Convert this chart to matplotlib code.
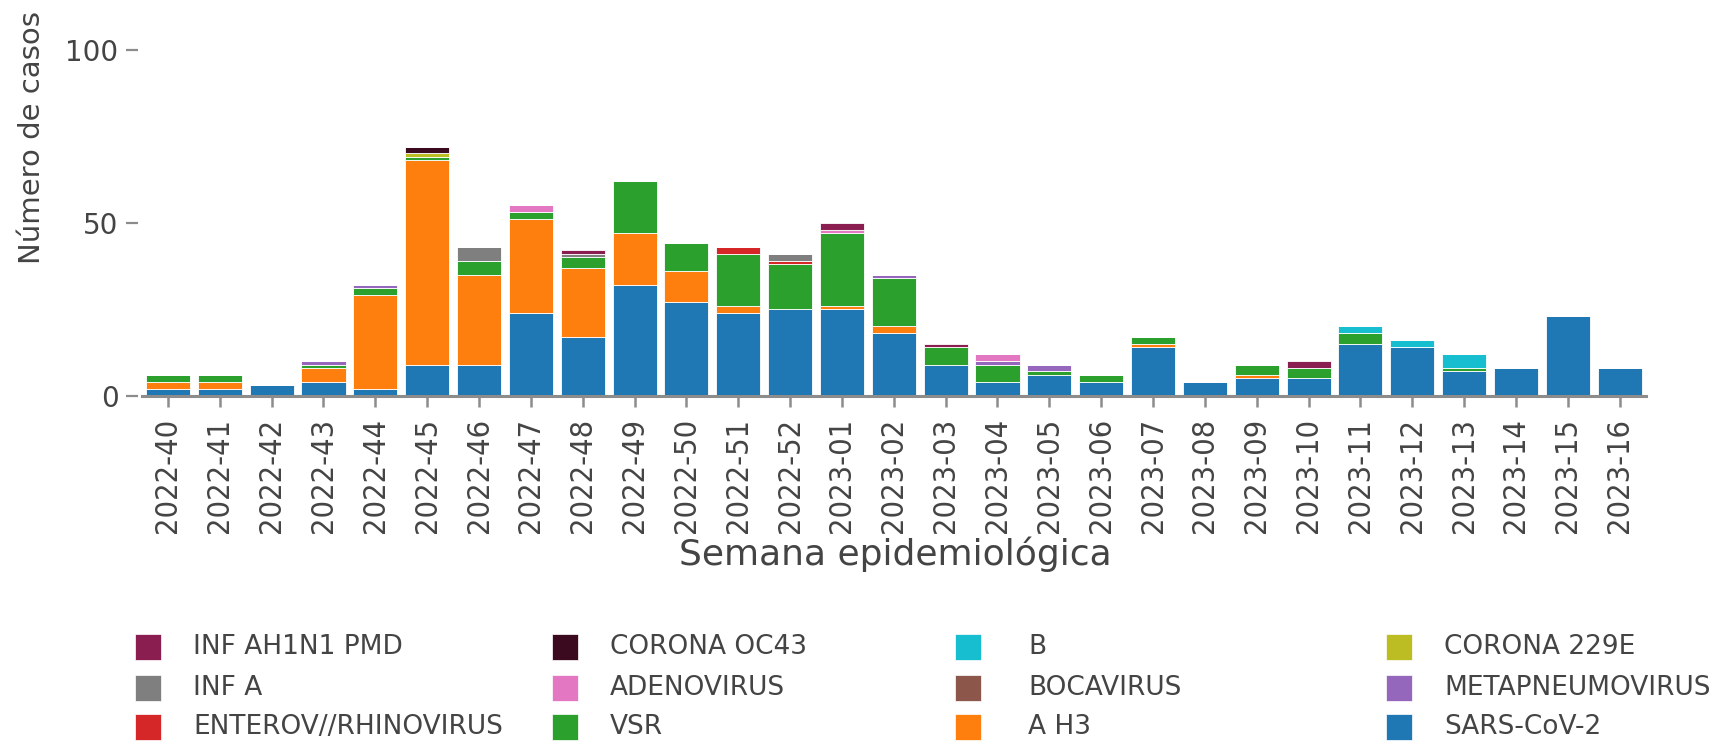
import matplotlib
matplotlib.use("Agg")
import matplotlib.pyplot as plt
from matplotlib import font_manager as fm
from matplotlib.patches import Rectangle
import numpy as np

weeks = ['2022-40', '2022-41', '2022-42', '2022-43', '2022-44', '2022-45', '2022-46',
         '2022-47', '2022-48', '2022-49', '2022-50', '2022-51', '2022-52',
         '2023-01', '2023-02', '2023-03', '2023-04', '2023-05', '2023-06', '2023-07',
         '2023-08', '2023-09', '2023-10', '2023-11', '2023-12', '2023-13', '2023-14',
         '2023-15', '2023-16']

sars_cov_2 = [2, 2, 3, 4, 2, 9, 9, 24, 17, 32, 27, 24, 25, 25, 18, 9, 4, 6, 4, 14, 4, 5, 5, 15, 14, 7, 8, 23, 8]
a_h3 = [2, 2, 0, 4, 27, 59, 26, 27, 20, 15, 9, 2, 0, 1, 2, 0, 0, 0, 0, 1, 0, 1, 0, 0, 0, 0, 0, 0, 0]
vsr = [2, 2, 0, 1, 2, 1, 4, 2, 3, 15, 8, 15, 13, 21, 14, 5, 5, 1, 2, 2, 0, 3, 3, 3, 0, 1, 0, 0, 0]
enterov = [0, 0, 0, 0, 0, 0, 0, 0, 0, 0, 0, 2, 1, 0, 0, 0, 0, 0, 0, 0, 0, 0, 0, 0, 0, 0, 0, 0, 0]
metapneumo = [0, 0, 0, 1, 1, 0, 0, 0, 0, 0, 0, 0, 0, 0, 1, 0, 1, 2, 0, 0, 0, 0, 0, 0, 0, 0, 0, 0, 0]
bocavirus = [0] * 29
adenovirus = [0, 0, 0, 0, 0, 0, 0, 2, 0, 0, 0, 0, 0, 1, 0, 0, 2, 0, 0, 0, 0, 0, 0, 0, 0, 0, 0, 0, 0]
inf_a = [0, 0, 0, 0, 0, 0, 4, 0, 1, 0, 0, 0, 2, 0, 0, 0, 0, 0, 0, 0, 0, 0, 0, 0, 0, 0, 0, 0, 0]
corona_229e = [0, 0, 0, 0, 0, 1, 0, 0, 0, 0, 0, 0, 0, 0, 0, 0, 0, 0, 0, 0, 0, 0, 0, 0, 0, 0, 0, 0, 0]
inf_b = [0, 0, 0, 0, 0, 0, 0, 0, 0, 0, 0, 0, 0, 0, 0, 0, 0, 0, 0, 0, 0, 0, 0, 2, 2, 4, 0, 0, 0]
corona_oc43 = [0, 0, 0, 0, 0, 2, 0, 0, 0, 0, 0, 0, 0, 0, 0, 0, 0, 0, 0, 0, 0, 0, 0, 0, 0, 0, 0, 0, 0]
ah1n1 = [0, 0, 0, 0, 0, 0, 0, 0, 1, 0, 0, 0, 0, 2, 0, 1, 0, 0, 0, 0, 0, 0, 2, 0, 0, 0, 0, 0, 0]

# stacking order bottom -> top
series_names = ['SARS-CoV-2', 'A H3', 'VSR', 'ENTEROV//RHINOVIRUS', 'METAPNEUMOVIRUS',
                'BOCAVIRUS', 'ADENOVIRUS', 'INF A', 'CORONA 229E', 'B', 'CORONA OC43',
                'INF AH1N1 PMD']
series_values = [sars_cov_2, a_h3, vsr, enterov, metapneumo, bocavirus, adenovirus,
                 inf_a, corona_229e, inf_b, corona_oc43, ah1n1]
series_colors = ['#1f77b4', '#ff7f0e', '#2ca02c', '#d62728', '#9467bd', '#8c564b',
                 '#e377c2', '#7f7f7f', '#bcbd22', '#17becf', '#3c0a1e', '#8b1e50']

y_ticks = [0, 50, 100]

W, H = 1711, 741
fig = plt.figure(figsize=(W / 100, H / 100), dpi=100)

def fx(px):
    return px / W

def fy(py):
    return 1 - py / H

ax_left, ax_right = 142, 1645.6
ax_bottom_px, ax_top_px = 395.7, 395.7 - 105 * 3.46
ax = fig.add_axes([fx(ax_left), fy(ax_bottom_px), fx(ax_right - ax_left),
                   (ax_bottom_px - ax_top_px) / H])

names = {f.name for f in fm.fontManager.ttflist}
narrow = 'Liberation Sans Narrow' if 'Liberation Sans Narrow' in names else None

x = np.arange(len(weeks))
bottom = np.zeros(len(weeks))
for name, vals, col in zip(series_names, series_values, series_colors):
    v = np.array(vals, dtype=float)
    ax.bar(x, v, bottom=bottom, width=0.85, color=col, edgecolor='white',
           linewidth=0.6, label=name, zorder=2)
    bottom += v

ax.set_xlim(-0.5, len(weeks) - 0.5)
ax.set_ylim(0, 105)

for s in ['top', 'right', 'left']:
    ax.spines[s].set_visible(False)
ax.spines['left'].set_position(('outward', 3))
ax.spines['bottom'].set_color('#8c8c8c')
ax.spines['bottom'].set_linewidth(2.2)
ax.spines['bottom'].set_zorder(3)

ax.set_yticks(y_ticks)
ax.set_yticklabels([str(t) for t in y_ticks])
ax.tick_params(axis='y', length=8.5, width=1.6, color='#8c8c8c', pad=5.5,
               labelsize=20, labelcolor='#444444')
ax.set_xticks(x)
if narrow:
    ax.set_xticklabels(weeks, rotation=90, fontsize=25, family=narrow, color='#444444')
else:
    ax.set_xticklabels(weeks, rotation=90, fontsize=22, fontstretch='condensed',
                       color='#444444')
ax.tick_params(axis='x', length=8, width=1.8, color='#8c8c8c', pad=8)

# axis titles
fig.text(fx(895), fy(554), 'Semana epidemiológica', ha='center', va='center',
         fontsize=26, color='#444444')
if narrow:
    fig.text(fx(32), fy(138), 'Número de casos', rotation=90, ha='center', va='center',
             fontsize=24.5, family=narrow, color='#444444')
else:
    fig.text(fx(32), fy(138), 'Número de casos', rotation=90, ha='center', va='center',
             fontsize=21, color='#444444')

# legend (row-major, reversed trace order)
legend_order = list(reversed(range(len(series_names))))
col_x = [135, 552, 955, 1386]
text_x = [193, 610, 1028, 1444]
row_y = [647, 688, 727]
sw = 26
for k, idx in enumerate(legend_order):
    r, c = divmod(k, 4)
    x0 = col_x[c]
    yc = row_y[r]
    fig.patches.append(Rectangle((fx(x0), fy(yc + sw / 2)), sw / W, sw / H,
                                 transform=fig.transFigure, facecolor=series_colors[idx],
                                 edgecolor='white', linewidth=0.5))
    fig.text(fx(text_x[c]), fy(yc), series_names[idx], ha='left', va='center',
             fontsize=19, color='#444444')

fig.savefig('out.png', dpi=100, facecolor='white')
